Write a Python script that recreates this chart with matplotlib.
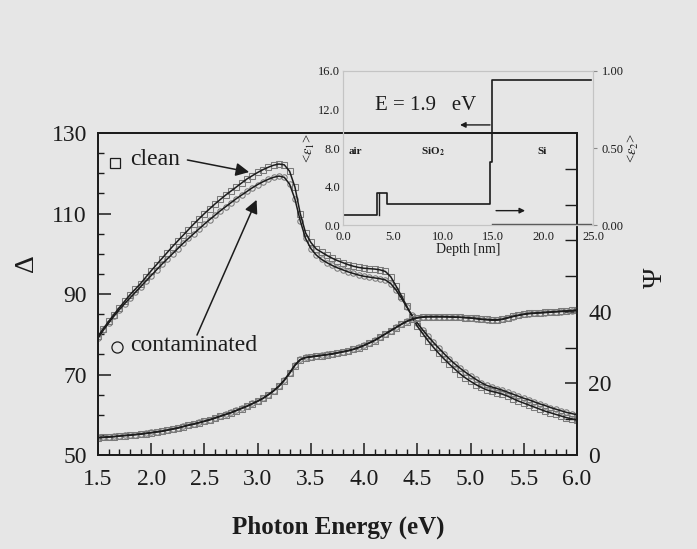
import numpy as np
import matplotlib
matplotlib.use("Agg")
import matplotlib.pyplot as plt
from matplotlib.ticker import MultipleLocator, FixedLocator, FormatStrFormatter

plt.rcParams["font.family"] = ["Liberation Serif", "DejaVu Serif"]
plt.rcParams["mathtext.fontset"] = "stix"

# photon energy grid (eV)
energy = np.round(np.arange(1.5, 6.0001, 0.05), 2)

delta_clean = [
    79.5, 81.4, 83.2, 84.9, 86.6, 88.2, 89.8, 91.2, 92.6, 94.2,
    95.8, 97.3, 98.8, 100.3, 101.8, 103.2, 104.6, 106.0, 107.4, 108.7,
    110.0, 111.2, 112.4, 113.5, 114.6, 115.6, 116.6, 117.6, 118.6, 119.4,
    120.2, 120.9, 121.5, 122.0, 122.3, 122.1, 120.5, 116.6, 110.0, 105.2,
    102.8, 101.2, 100.4, 99.6, 98.9, 98.3, 97.8, 97.3, 96.9, 96.6,
    96.4, 96.3, 96.2, 96.0, 95.6, 94.3, 92.0, 89.6, 87.0, 84.4,
    82.0, 80.2, 78.4, 76.8, 75.3, 73.9, 72.6, 71.4, 70.2, 69.2,
    68.3, 67.5, 66.8, 66.2, 65.8, 65.5, 65.1, 64.6, 64.0, 63.4,
    62.9, 62.4, 61.9, 61.4, 60.9, 60.5, 60.1, 59.7, 59.3, 59.0,
    58.7,
]
delta_contam = [
    79.0, 81.0, 82.8, 84.5, 86.1, 87.6, 89.0, 90.4, 91.8, 93.2,
    94.6, 96.0, 97.4, 98.7, 100.0, 101.3, 102.6, 103.8, 105.0, 106.2,
    107.4, 108.5, 109.6, 110.7, 111.7, 112.7, 113.7, 114.6, 115.5, 116.4,
    117.2, 117.9, 118.5, 119.0, 119.3, 119.0, 117.3, 113.6, 108.2, 103.8,
    101.3, 99.7, 98.6, 97.8, 97.1, 96.5, 96.0, 95.5, 95.1, 94.7,
    94.4, 94.2, 94.0, 93.8, 93.5, 92.6, 91.0, 89.0, 86.8, 84.7,
    82.8, 81.1, 79.5, 78.0, 76.6, 75.2, 73.9, 72.7, 71.6, 70.6,
    69.7, 68.8, 68.0, 67.3, 66.9, 66.5, 66.1, 65.6, 65.1, 64.6,
    64.1, 63.7, 63.2, 62.7, 62.3, 61.8, 61.4, 61.0, 60.6, 60.3,
    60.0,
]
psi_clean = [
    4.8, 4.9, 5.0, 5.1, 5.3, 5.4, 5.5, 5.7, 5.8, 6.0,
    6.2, 6.4, 6.6, 6.9, 7.2, 7.5, 7.9, 8.3, 8.6, 9.0,
    9.4, 9.8, 10.3, 10.8, 11.3, 11.8, 12.4, 13.0, 13.6, 14.3,
    15.0, 15.8, 16.8, 17.9, 19.2, 20.8, 22.8, 25.0, 26.6, 27.2,
    27.4, 27.6, 27.8, 28.0, 28.2, 28.5, 28.8, 29.1, 29.5, 30.0,
    30.6, 31.3, 32.0, 32.9, 33.8, 34.7, 35.6, 36.5, 37.3, 37.9,
    38.3, 38.5, 38.6, 38.6, 38.6, 38.6, 38.6, 38.5, 38.5, 38.4,
    38.3, 38.2, 38.0, 37.9, 37.8, 37.8, 38.0, 38.4, 38.8, 39.1,
    39.4, 39.6, 39.7, 39.8, 39.9, 40.0, 40.1, 40.2, 40.3, 40.4,
    40.5,
]
psi_contam = [
    4.9, 5.0, 5.1, 5.2, 5.3, 5.5, 5.6, 5.7, 5.9, 6.1,
    6.3, 6.5, 6.7, 7.0, 7.3, 7.6, 8.0, 8.4, 8.7, 9.1,
    9.5, 9.9, 10.4, 10.9, 11.4, 11.9, 12.5, 13.1, 13.7, 14.4,
    15.1, 15.9, 16.9, 18.0, 19.3, 21.0, 23.0, 25.2, 26.7, 27.3,
    27.5, 27.7, 27.9, 28.1, 28.3, 28.6, 28.9, 29.2, 29.6, 30.1,
    30.7, 31.4, 32.1, 33.0, 33.9, 34.8, 35.7, 36.6, 37.4, 38.0,
    38.4, 38.6, 38.7, 38.7, 38.7, 38.7, 38.6, 38.6, 38.5, 38.4,
    38.3, 38.1, 37.9, 37.8, 37.7, 37.7, 37.9, 38.3, 38.7, 39.0,
    39.3, 39.5, 39.6, 39.7, 39.8, 39.9, 40.0, 40.1, 40.2, 40.3,
    40.4,
]

# inset: dielectric depth profile at E = 1.9 eV
depth = [0.0, 3.4, 3.4, 4.4, 4.4, 14.7, 14.7, 14.85, 14.85, 24.8]
eps1 = [1.0, 1.0, 3.3, 3.3, 2.17, 2.17, 6.6, 6.6, 15.1, 15.1]
depth_si = [14.85, 24.8]
eps2_si = [0.008, 0.008]

BG = "#e6e6e6"
INK = "#1c1c1c"
MK = "#7a7a7a"

fig = plt.figure(figsize=(6.97, 5.49), dpi=100, facecolor=BG)
ax = fig.add_axes([0.1406, 0.1712, 0.6872, 0.5865])
ax.set_facecolor("none")
ax2 = ax.twinx()

mk = dict(ls="none", mfc="none", mec=MK, mew=0.75, ms=3.9, zorder=2)
ln = dict(color=INK, lw=1.1, zorder=3)
ax.plot(energy, delta_clean, "s", **mk)
ax.plot(energy, delta_contam, "o", **mk)
ax.plot(energy, delta_clean, **ln)
ax.plot(energy, delta_contam, **ln)
ax2.plot(energy, psi_clean, "s", **mk)
ax2.plot(energy, psi_contam, "o", **mk)
ax2.plot(energy, psi_clean, **ln)
ax2.plot(energy, psi_contam, **ln)

ax.set_xlim(1.5, 6.0)
ax.set_ylim(50, 130)
ax2.set_ylim(0, 90)
ax.xaxis.set_major_locator(MultipleLocator(0.5))
ax.xaxis.set_minor_locator(MultipleLocator(0.1))
ax.xaxis.set_major_formatter(FormatStrFormatter("%.1f"))
ax.yaxis.set_major_locator(FixedLocator([50, 70, 90, 110, 130]))
ax.yaxis.set_minor_locator(MultipleLocator(5))
ax2.yaxis.set_major_locator(FixedLocator([0, 20, 40]))
ax2.yaxis.set_minor_locator(FixedLocator([10, 30, 50, 60, 70, 80]))

for a in (ax, ax2):
    for s in a.spines.values():
        s.set_color(INK)
        s.set_linewidth(1.3)
ax.tick_params(axis="both", which="major", direction="in", length=9, width=1.1,
               labelsize=17, color=INK, labelcolor=INK)
ax.tick_params(axis="both", which="minor", direction="in", length=4.5, width=1.0,
               color=INK)
ax.tick_params(axis="x", pad=10)
ax.tick_params(axis="y", pad=8)
ax.tick_params(top=False, which="both")
ax2.tick_params(axis="y", which="major", direction="in", length=9, width=1.1,
                labelsize=17, color=INK, labelcolor=INK, pad=8)
ax2.tick_params(axis="y", which="minor", direction="in", length=9, width=1.0,
                color=INK)

fig.text(27 / 697, 1 - 263 / 549, "Δ", rotation=90, ha="center", va="center",
         fontsize=20, color=INK)
fig.text(655 / 697, 1 - 278 / 549, "Ψ", rotation=90, ha="center", va="center",
         fontsize=20, color=INK)
fig.text(338 / 697, 1 - 527 / 549, "Photon Energy (eV)", ha="center",
         va="center", fontsize=18, fontweight="bold", color=INK)

# series labels with pointer arrows
ax.plot([1.66], [122.6], "s", mfc="none", mec=INK, mew=0.9, ms=6.5)
ax.text(1.80, 123.3, "clean", fontsize=17, va="center", color=INK)
ax.annotate("", xy=(2.92, 120.3), xytext=(2.34, 123.3),
            arrowprops=dict(arrowstyle="-|>", color=INK, lw=1.1,
                            mutation_scale=20, shrinkA=0, shrinkB=0))
ax.plot([1.68], [76.8], "o", mfc="none", mec=INK, mew=0.9, ms=8)
ax.text(1.80, 77.3, "contaminated", fontsize=17, va="center", color=INK)
ax.annotate("", xy=(2.99, 113.4), xytext=(2.43, 79.8),
            arrowprops=dict(arrowstyle="-|>", color=INK, lw=1.1,
                            mutation_scale=20, shrinkA=0, shrinkB=0))

# inset depth profile
ins = fig.add_axes([0.492, 0.590, 0.359, 0.2807])
ins.set_facecolor("none")
ins2 = ins.twinx()
ins.plot(depth, eps1, color=INK, lw=1.2)
ins.plot([3.6, 3.6], [1.0, 3.3], color=INK, lw=1.0)
ins2.plot(depth_si, eps2_si, color="#555555", lw=1.0)
ins.set_xlim(0, 25)
ins.set_ylim(0, 16)
ins2.set_ylim(0, 1)
ins.set_xticks([0, 5, 10, 15, 20, 25])
ins.set_xticklabels(["0.0", "5.0", "10.0", "15.0", "20.0", "25.0"])
ins.set_yticks([0, 4, 8, 12, 16])
ins.set_yticklabels(["0.0", "4.0", "8.0", "12.0", "16.0"])
ins2.set_yticks([0, 0.5, 1.0])
ins2.set_yticklabels(["0.00", "0.50", "1.00"])
for a in (ins, ins2):
    for s in a.spines.values():
        s.set_color("#c4c4c4")
        s.set_linewidth(0.8)
ins.tick_params(axis="y", length=0, labelsize=9, labelcolor=INK, pad=2)
ins.tick_params(axis="x", length=0, labelsize=9, labelcolor=INK, pad=4)
ins2.tick_params(axis="y", direction="out", length=3, color="#8a8a8a",
                 labelsize=9, labelcolor=INK, pad=3)
ins.set_xlabel("Depth [nm]", fontsize=10, color=INK, labelpad=0)
ins.set_ylabel(r"<$\varepsilon_1$>", fontsize=10.5, color=INK, labelpad=1)
ins2.set_ylabel(r"<$\varepsilon_2$>", fontsize=10.5, color=INK, labelpad=2,
                rotation=90)

ins.text(3.2, 12.4, "E = 1.9   eV", fontsize=15, va="center", color=INK)
ins.text(0.6, 7.6, "air", fontsize=8, fontweight="bold", va="center",
         color=INK)
ins.text(9.0, 7.6, r"SiO$_\mathbf{2}$", fontsize=8, fontweight="bold",
         ha="center", va="center", color=INK)
ins.text(19.9, 7.6, "Si", fontsize=8, fontweight="bold", ha="center",
         va="center", color=INK)
ins.annotate("", xy=(11.7, 10.4), xytext=(14.7, 10.4),
             arrowprops=dict(arrowstyle="-|>", color=INK, lw=1.0,
                             mutation_scale=8, shrinkA=0, shrinkB=0))
ins.annotate("", xy=(18.2, 1.5), xytext=(15.3, 1.5),
             arrowprops=dict(arrowstyle="-|>", color=INK, lw=1.0,
                             mutation_scale=8, shrinkA=0, shrinkB=0))

fig.savefig("out.png", dpi=100, facecolor=BG)
